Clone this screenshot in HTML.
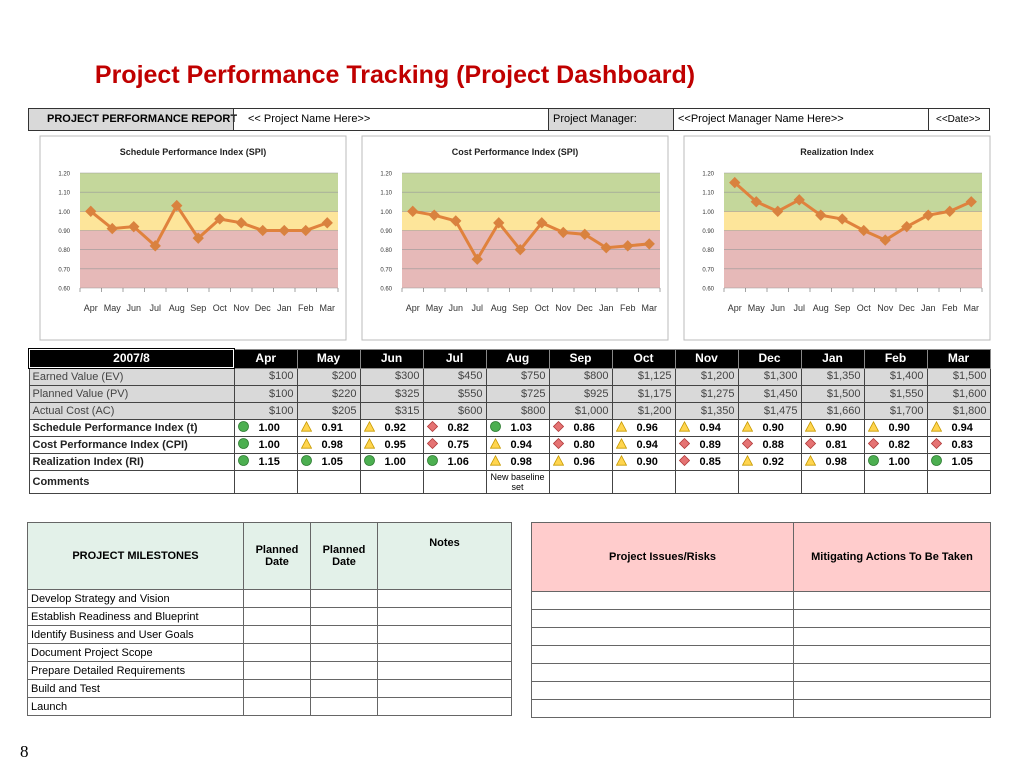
<!DOCTYPE html>
<html><head><meta charset="utf-8">
<style>
body{margin:0;width:1024px;height:768px;background:#fff;font-family:"Liberation Sans",sans-serif;position:relative;overflow:hidden}
.abs{position:absolute;box-sizing:border-box}
#title{left:0;width:790px;top:61px;text-align:center;color:#c00000;font-weight:bold;font-size:25px}
.hc{top:108px;height:23px;border:1px solid #333;font-size:11px;line-height:21px;padding-left:14px;white-space:nowrap}
.gray{background:#d9d9d9}
table{border-collapse:collapse}
#perf{left:28px;top:348px;font-size:11px;width:962px;table-layout:fixed}
#perf td{border:1px solid #444;height:16px;line-height:15px;padding:0 3px;white-space:nowrap;overflow:hidden}
#perf tr.h td{background:#000;color:#fff;font-weight:bold;text-align:center;height:17px;border-color:#888;font-size:12px}
#perf td.g{background:#d9d9d9;color:#444}
#perf td.num{text-align:right}
#perf td.lab{font-weight:bold;color:#222}
.ic{display:inline-block;width:11px;height:11px;vertical-align:-1px;margin:0 10px 0 0}
.tbl2 td{border:1px solid #666;font-size:11px;padding:0 3px;height:17px}
</style></head><body>
<div id="title" class="abs">Project Performance Tracking (Project Dashboard)</div>
<div class="abs hc gray" style="left:28px;width:206px;font-weight:bold;padding-left:18px">PROJECT PERFORMANCE REPORT</div>
<div class="abs hc" style="left:233px;width:316px">&lt;&lt; Project Name Here&gt;&gt;</div>
<div class="abs hc gray" style="left:548px;width:126px;padding-left:4px">Project Manager:</div>
<div class="abs hc" style="left:673px;width:256px;padding-left:4px">&lt;&lt;Project Manager Name Here&gt;&gt;</div>
<div class="abs hc" style="left:928px;width:62px;padding-left:7px;font-size:10px">&lt;&lt;Date&gt;&gt;</div>
<svg id="charts" class="abs" style="left:0;top:0" width="1024" height="345"></svg>
<table id="perf" class="abs"></table>
<table class="abs tbl2" style="left:27px;top:522px;width:484px;table-layout:fixed">
<colgroup><col style="width:216px"><col style="width:67px"><col style="width:67px"><col style="width:134px"></colgroup>
<tr style="background:#e3f1e9;font-weight:bold;text-align:center"><td style="height:66px">PROJECT MILESTONES</td><td>Planned<br>Date</td><td>Planned<br>Date</td><td style="vertical-align:top;padding-top:14px">Notes</td></tr>
<tr><td>Develop Strategy and Vision</td><td></td><td></td><td></td></tr>
<tr><td>Establish Readiness and Blueprint</td><td></td><td></td><td></td></tr>
<tr><td>Identify Business and User Goals</td><td></td><td></td><td></td></tr>
<tr><td>Document Project Scope</td><td></td><td></td><td></td></tr>
<tr><td>Prepare Detailed Requirements</td><td></td><td></td><td></td></tr>
<tr><td>Build and Test</td><td></td><td></td><td></td></tr>
<tr><td>Launch</td><td></td><td></td><td></td></tr>
</table>
<table class="abs tbl2" style="left:531px;top:522px;width:459px;table-layout:fixed">
<colgroup><col style="width:262px"><col style="width:197px"></colgroup>
<tr style="background:#ffcccc;font-weight:bold;text-align:center"><td style="height:68px">Project Issues/Risks</td><td>Mitigating Actions To Be Taken</td></tr>
<tr><td style="height:15.5px"></td><td></td></tr><tr><td style="height:15.5px"></td><td></td></tr><tr><td style="height:15.5px"></td><td></td></tr><tr><td style="height:15.5px"></td><td></td></tr><tr><td style="height:15.5px"></td><td></td></tr><tr><td style="height:15.5px"></td><td></td></tr><tr><td style="height:15.5px"></td><td></td></tr>
</table>
<div class="abs" style="left:20px;top:742px;font-family:'Liberation Serif',serif;font-size:17px">8</div>
<script>
const months=["Apr","May","Jun","Jul","Aug","Sep","Oct","Nov","Dec","Jan","Feb","Mar"];
const spi=[1.00,0.91,0.92,0.82,1.03,0.86,0.96,0.94,0.90,0.90,0.90,0.94];
const cpi=[1.00,0.98,0.95,0.75,0.94,0.80,0.94,0.89,0.88,0.81,0.82,0.83];
const ri=[1.15,1.05,1.00,1.06,0.98,0.96,0.90,0.85,0.92,0.98,1.00,1.05];
const yTicks=[0.60,0.70,0.80,0.90,1.00,1.10,1.20];
const ev=["$100","$200","$300","$450","$750","$800","$1,125","$1,200","$1,300","$1,350","$1,400","$1,500"];
const pv=["$100","$220","$325","$550","$725","$925","$1,175","$1,275","$1,450","$1,500","$1,550","$1,600"];
const ac=["$100","$205","$315","$600","$800","$1,000","$1,200","$1,350","$1,475","$1,660","$1,700","$1,800"];
const NS="http://www.w3.org/2000/svg";
const svg=document.getElementById('charts');
function mk(t,a,p){const e=document.createElementNS(NS,t);for(const k in a)e.setAttribute(k,a[k]);(p||svg).appendChild(e);return e;}
function chart(x0,title,vals,name){
 const g=mk('g',{});
 
 
 mk('rect',{x:x0,y:136,width:306,height:204,fill:'#fff',stroke:'#bbb'},g);
 const t=mk('text',{x:x0+153,y:155,'text-anchor':'middle','font-size':9,'font-weight':'bold',fill:'#222'},g);t.textContent=title;
 const L=x0+40,R=x0+298,T=173,B=288;
 const y=v=>B-(v-0.6)/0.6*(B-T);
 const xs=i=>L+(i+0.5)*(R-L)/12;
 mk('rect',{x:L,y:y(1.2),width:R-L,height:y(1.0)-y(1.2),fill:'#c4d79b'},g);
 mk('rect',{x:L,y:y(1.0),width:R-L,height:y(0.9)-y(1.0),fill:'#fde59a'},g);
 mk('rect',{x:L,y:y(0.9),width:R-L,height:y(0.6)-y(0.9),fill:'#e6b9b8'},g);
 yTicks.forEach(v=>{mk('line',{x1:L,x2:R,y1:y(v),y2:y(v),stroke:'#999','stroke-width':0.6},g);
  const l=mk('text',{x:L-10,y:y(v)+2.5,'text-anchor':'end','font-size':6,fill:'#333'},g);l.textContent=v.toFixed(2);});
 for(let i=0;i<=12;i++)mk('line',{x1:L+i*(R-L)/12,x2:L+i*(R-L)/12,y1:B,y2:B+4,stroke:'#666','stroke-width':0.6},g);
 months.forEach((m,i)=>{const l=mk('text',{x:xs(i),y:311,'text-anchor':'middle','font-size':9,fill:'#333'},g);l.textContent=m;});
 mk('polyline',{points:vals.map((v,i)=>xs(i)+','+y(v)).join(' '),fill:'none',stroke:'#e0823d','stroke-width':3},g);
 vals.forEach((v,i)=>{const p=mk('rect',{x:xs(i)-4,y:y(v)-4,width:8,height:8,fill:'#d9823f',transform:`rotate(45 ${xs(i)} ${y(v)})`},g);
  
  });
}
chart(40,"Schedule Performance Index (SPI)",spi,"spi-chart");
chart(362,"Cost Performance Index (SPI)",cpi,"cpi-chart");
chart(684,"Realization Index",ri,"ri-chart");
function icon(v){
 if(v>=1.0)return '<svg class="ic" viewBox="0 0 11 11"><circle cx="5.5" cy="5.5" r="5" fill="#4caf50" stroke="#2e7d32" stroke-width="0.8"/></svg>';
 if(v>=0.9)return '<svg class="ic" viewBox="0 0 11 11"><polygon points="5.5,0.8 10.5,10.2 0.5,10.2" fill="#ffd54f" stroke="#c79a00" stroke-width="0.8"/></svg>';
 return '<svg class="ic" viewBox="0 0 11 11"><polygon points="5.5,0.5 10.5,5.5 5.5,10.5 0.5,5.5" fill="#e57373" stroke="#b23c3c" stroke-width="0.8"/></svg>';
}
const tb=document.getElementById('perf');
let h='<colgroup><col style="width:205px">'+months.map(()=>'<col style="width:63px">').join('')+'</colgroup>';
h+='<tr class="h"><td style="border:2px solid #fff;outline:1px solid #000">2007/8</td>'+months.map(m=>'<td>'+m+'</td>').join('')+'</tr>';
[["Earned Value (EV)",ev],["Planned Value (PV)",pv],["Actual Cost (AC)",ac]].forEach(r=>{h+='<tr><td class="g">'+r[0]+'</td>'+r[1].map(v=>'<td class="g num">'+v+'</td>').join('')+'</tr>';});
[["Schedule Performance Index (t)",spi],["Cost Performance Index (CPI)",cpi],["Realization Index (RI)",ri]].forEach(r=>{h+='<tr><td class="lab">'+r[0]+'</td>'+r[1].map(v=>'<td style="font-weight:bold">'+icon(v)+v.toFixed(2)+'</td>').join('')+'</tr>';});
h+='<tr><td class="lab" style="height:22px">Comments</td>'+months.map((m,i)=>i==4?'<td style="font-size:9px;text-align:center;line-height:10px;white-space:normal">New baseline set</td>':'<td></td>').join('')+'</tr>';
tb.innerHTML=h;
</script>
</body></html>
